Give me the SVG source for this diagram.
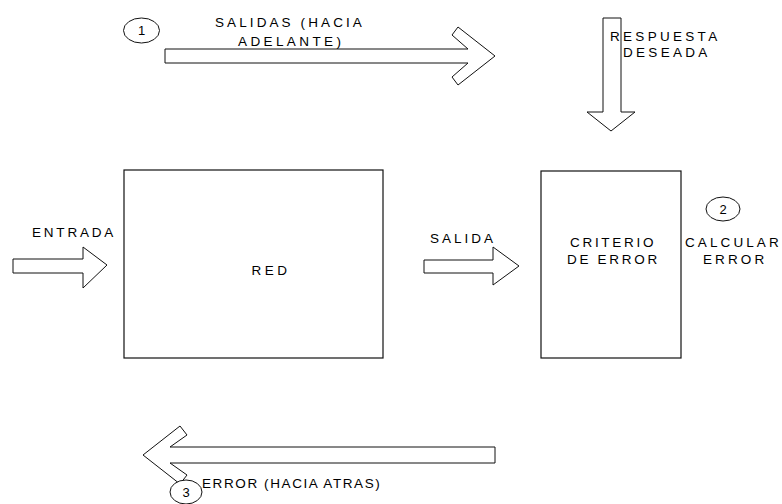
<svg xmlns="http://www.w3.org/2000/svg" width="782" height="504" viewBox="0 0 782 504">
  <style>
    .box { fill: #ffffff; stroke: #111111; stroke-width: 1.2; }
    .arrow { fill: #ffffff; stroke: #111111; stroke-width: 1; stroke-linejoin: miter; }
    .badge { fill: #ffffff; stroke: #111111; stroke-width: 1; }
    text { font-family: "Liberation Sans", Arial, sans-serif; font-size: 13.5px; fill: #000000; }
    .num { text-anchor: middle; font-size: 13px; }
  </style>
  <rect width="782" height="504" fill="#ffffff"/>

  <!-- block arrows -->
  <g id="connectors">
    <!-- forward pass -->
    <polygon class="arrow" points="165,49 468,49 452,35 458,27 495,56 458,85 452,77 468,63 165,63"/>
    <!-- desired response -->
    <polygon class="arrow" points="603,18 621,18 621,112 635,112 611,131 587,112 603,112"/>
    <!-- input -->
    <polygon class="arrow" points="13,259 83,259 83,247 107,265 83,288 83,273 13,273"/>
    <!-- output -->
    <polygon class="arrow" points="424,260 493,260 493,247 519,266 493,285 493,273 424,273"/>
    <!-- backward pass -->
    <polygon class="arrow" points="495,447 170,447 187,435 180,426 143,455 180,484 187,475 170,463 495,463"/>
  </g>

  <g id="node-red">
    <rect class="box" x="124" y="170" width="259" height="188"/>
    <text x="271" y="275" text-anchor="middle" font-size="15" letter-spacing="3.5">RED</text>
  </g>

  <g id="node-criterio">
    <rect class="box" x="541" y="171" width="140" height="187"/>
    <text x="570" y="247" letter-spacing="2.7">CRITERIO</text>
    <text x="567" y="264" letter-spacing="2.7">DE ERROR</text>
  </g>

  <g id="step-1">
    <ellipse class="badge" cx="141.5" cy="30.5" rx="18" ry="12.5"/>
    <text class="num" x="141.5" y="35">1</text>
  </g>
  <g id="step-2">
    <ellipse class="badge" cx="723" cy="209" rx="17" ry="12"/>
    <text class="num" x="723" y="214">2</text>
  </g>
  <g id="step-3">
    <ellipse class="badge" cx="186" cy="492" rx="16" ry="12"/>
    <text class="num" x="186" y="497">3</text>
  </g>

  <g id="labels">
    <text x="215" y="27" letter-spacing="3.1">SALIDAS (HACIA</text>
    <text x="238" y="46" letter-spacing="3.4">ADELANTE)</text>
    <text x="610" y="41" letter-spacing="3.3">RESPUESTA</text>
    <text x="623" y="57" letter-spacing="3.3">DESEADA</text>
    <text x="32" y="237" letter-spacing="2.8">ENTRADA</text>
    <text x="430" y="243" letter-spacing="3">SALIDA</text>
    <text x="685" y="247" letter-spacing="3.1">CALCULAR</text>
    <text x="703" y="264" letter-spacing="3.1">ERROR</text>
    <text x="202" y="488" letter-spacing="1.6">ERROR (HACIA ATRAS)</text>
  </g>
</svg>
